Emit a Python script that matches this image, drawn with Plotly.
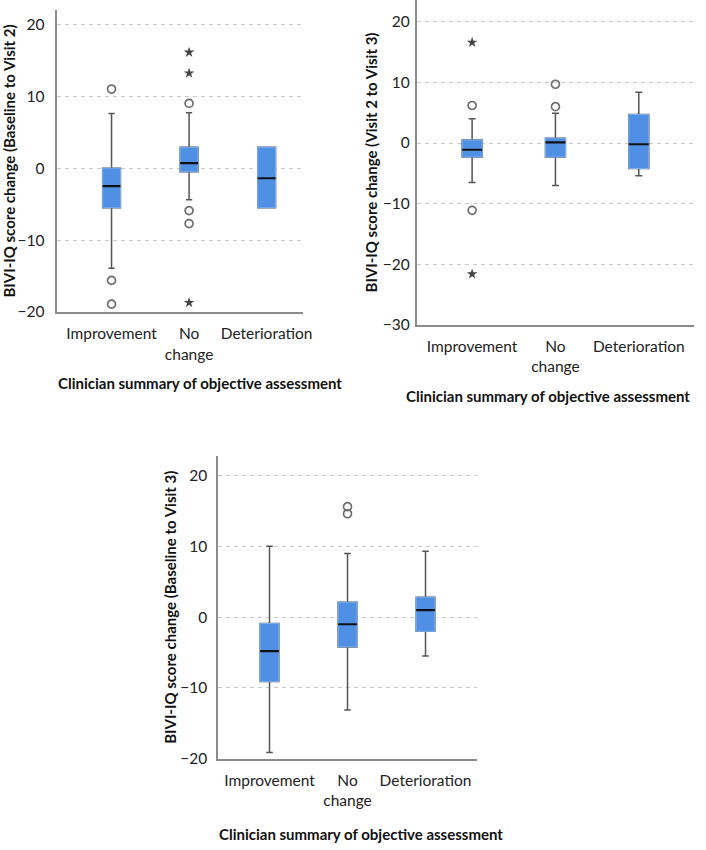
import plotly.graph_objects as go

categories = ["Improvement", "No change", "Deterioration"]
tick_text = ["Improvement", "No<br>change", "Deterioration"]

# Panel 1: Baseline to Visit 2
p1_q1 = [-5.5, -0.5, -5.5]
p1_med = [-2.5, 0.7, -1.4]
p1_q3 = [0.0, 2.9, 2.9]
p1_lo = [-13.9, -4.4, -5.5]
p1_hi = [7.6, 7.7, 2.9]
p1_circ_x = ["Improvement", "Improvement", "Improvement", "No change", "No change", "No change"]
p1_circ_y = [11.0, -15.6, -18.9, 9.0, -5.9, -7.7]
p1_star_x = ["No change", "No change", "No change"]
p1_star_y = [16.1, 13.2, -18.7]

# Panel 2: Visit 2 to Visit 3
p2_q1 = [-2.3, -2.3, -4.2]
p2_med = [-1.1, 0.1, -0.2]
p2_q3 = [0.5, 0.8, 4.7]
p2_lo = [-6.5, -7.0, -5.4]
p2_hi = [4.0, 4.9, 8.4]
p2_circ_x = ["Improvement", "Improvement", "No change", "No change"]
p2_circ_y = [6.2, -11.1, 9.7, 6.0]
p2_star_x = ["Improvement", "Improvement"]
p2_star_y = [16.6, -21.6]

# Panel 3: Baseline to Visit 3
p3_q1 = [-9.1, -4.2, -2.0]
p3_med = [-4.8, -1.0, 1.0]
p3_q3 = [-0.9, 2.1, 2.8]
p3_lo = [-19.1, -13.1, -5.5]
p3_hi = [10.0, 9.0, 9.3]
p3_circ_x = ["No change", "No change"]
p3_circ_y = [15.6, 14.6]
p3_star_x = []
p3_star_y = []

FONT = "Lato, 'Open Sans', sans-serif"
BLUE = "#4F90E4"
BLUE_EDGE = "#7FB0EE"
WHISK = "#555555"
GRID = "#C8C8C8"
AXIS = "#8C8C8C"

fig = go.Figure()

panels = [
    dict(q1=p1_q1, med=p1_med, q3=p1_q3, lo=p1_lo, hi=p1_hi,
         cx=p1_circ_x, cy=p1_circ_y, sx=p1_star_x, sy=p1_star_y,
         xa="x", ya="y", width=0.23),
    dict(q1=p2_q1, med=p2_med, q3=p2_q3, lo=p2_lo, hi=p2_hi,
         cx=p2_circ_x, cy=p2_circ_y, sx=p2_star_x, sy=p2_star_y,
         xa="x2", ya="y2", width=0.24),
    dict(q1=p3_q1, med=p3_med, q3=p3_q3, lo=p3_lo, hi=p3_hi,
         cx=p3_circ_x, cy=p3_circ_y, sx=p3_star_x, sy=p3_star_y,
         xa="x3", ya="y3", width=0.24),
]

for p in panels:
    # whiskers (gray)
    fig.add_trace(go.Box(
        x=categories, q1=p["q1"], median=p["med"], q3=p["q3"],
        lowerfence=p["lo"], upperfence=p["hi"],
        width=p["width"], whiskerwidth=0.35,
        line=dict(color=WHISK, width=1.5), fillcolor="rgba(0,0,0,0)",
        xaxis=p["xa"], yaxis=p["ya"], showlegend=False, hoverinfo="skip",
    ))
    # blue box
    fig.add_trace(go.Box(
        x=categories, q1=p["q1"], median=p["med"], q3=p["q3"],
        lowerfence=p["q1"], upperfence=p["q3"],
        width=p["width"], whiskerwidth=0,
        line=dict(color=BLUE_EDGE, width=1), fillcolor=BLUE,
        xaxis=p["xa"], yaxis=p["ya"], showlegend=False, hoverinfo="skip",
    ))
    # median (black)
    fig.add_trace(go.Box(
        x=categories, q1=p["med"], median=p["med"], q3=p["med"],
        lowerfence=p["med"], upperfence=p["med"],
        width=p["width"], whiskerwidth=0,
        line=dict(color="#111111", width=2.2), fillcolor="rgba(0,0,0,0)",
        xaxis=p["xa"], yaxis=p["ya"], showlegend=False, hoverinfo="skip",
    ))
    if p["cx"]:
        fig.add_trace(go.Scatter(
            x=p["cx"], y=p["cy"], mode="markers",
            marker=dict(symbol="circle-open", size=8, color="#6E6E6E", line=dict(width=1.7)),
            xaxis=p["xa"], yaxis=p["ya"], showlegend=False, hoverinfo="skip",
        ))
    if p["sx"]:
        fig.add_trace(go.Scatter(
            x=p["sx"], y=p["sy"], mode="markers",
            marker=dict(symbol="star", size=8, color="#444444"),
            xaxis=p["xa"], yaxis=p["ya"], showlegend=False, hoverinfo="skip",
        ))

W, H = 706, 850

def xd(a, b):
    return [a / W, b / W]

def yd(top, bottom):
    return [(H - bottom) / H, (H - top) / H]

common_x = dict(
    type="category", categoryorder="array", categoryarray=categories,
    tickmode="array", tickvals=categories, ticktext=tick_text,
    showline=True, linecolor=AXIS, linewidth=1.5, showgrid=False,
    ticks="outside", ticklen=7, tickcolor="rgba(0,0,0,0)",
    tickfont=dict(family=FONT, size=15.5, color="#222"),
    zeroline=False,
)
common_y = dict(
    showline=True, linecolor=AXIS, linewidth=1.5,
    showgrid=True, gridcolor=GRID, griddash="4px,4px", gridwidth=1,
    zeroline=False, ticks="outside", tickcolor="rgba(0,0,0,0)",
    tickfont=dict(family=FONT, size=15.5, color="#222"),
    dtick=10,
)

TF = dict(family=FONT, size=15, color="#111")

fig.update_layout(
    width=W, height=H, margin=dict(l=0, r=0, t=0, b=0),
    paper_bgcolor="white", plot_bgcolor="white",
    boxmode="overlay",
    xaxis=dict(common_x, domain=xd(58, 307), range=[-0.70, 2.47], anchor="y"),
    yaxis=dict(common_y, domain=yd(10, 315), range=[-20, 22], anchor="x",
               ticklen=8,
               title=dict(text="<b>BIVI-IQ score change (Baseline to Visit 2)</b>",
                          font=TF, standoff=3)),
    xaxis2=dict(common_x, domain=xd(422, 703), range=[-0.666, 2.663], anchor="y2"),
    yaxis2=dict(common_y, domain=yd(0, 328), range=[-30, 23.6], anchor="x2",
                ticklen=2,
                title=dict(text="<b>BIVI-IQ score change (Visit 2 to Visit 3)</b>",
                           font=TF, standoff=2)),
    xaxis3=dict(common_x, domain=xd(221, 483), range=[-0.658, 2.658], anchor="y3"),
    yaxis3=dict(common_y, domain=yd(460, 766), range=[-20, 22.8], anchor="x3",
                ticklen=6,
                title=dict(text="<b>BIVI-IQ score change (Baseline to Visit 3)</b>",
                           font=TF, standoff=0)),
)

xtitle = "<b>Clinician summary of objective assessment</b>"
for cx, cy in [(203, 387), (555, 400), (366, 842)]:
    fig.add_annotation(
        text=xtitle, xref="paper", yref="paper", x=cx / W, y=(H - cy) / H,
        showarrow=False, xanchor="center", yanchor="middle",
        font=TF,
    )

fig.write_html("out.html", config={"displayModeBar": False},
               post_script="document.body.style.margin='0px';")
